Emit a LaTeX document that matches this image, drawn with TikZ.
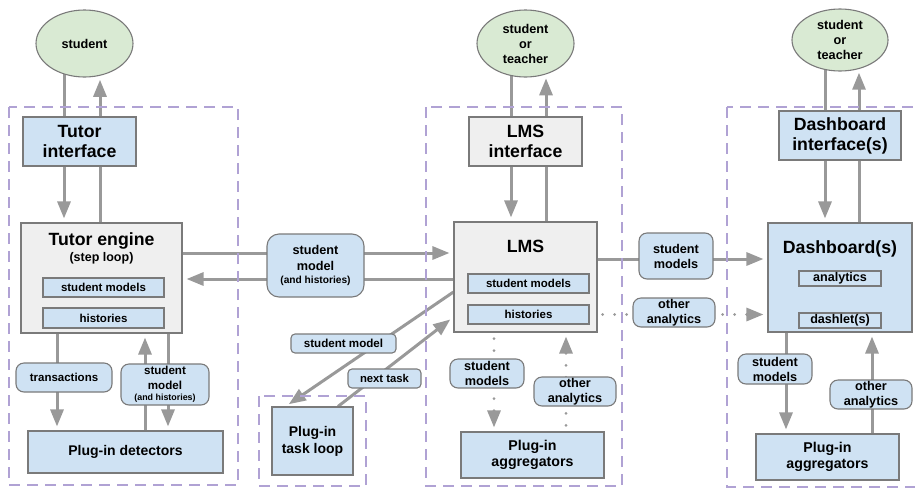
\documentclass[tikz,border=0pt]{standalone}
\usepackage{fontspec}
\setmainfont{Liberation Sans}
\usetikzlibrary{arrows.meta,shapes.geometric,calc}
\definecolor{lblue}{HTML}{CFE2F3}
\definecolor{lgray}{HTML}{EFEFEF}
\definecolor{lgreen}{HTML}{D9EAD3}
\definecolor{arrowgray}{HTML}{999999}
\definecolor{dashpurple}{HTML}{B0A2D4}
\definecolor{edgegray}{HTML}{7A7A7A}
\pgfdeclarelayer{bg}
\pgfsetlayers{bg,main}
\newcommand{\myfs}[2]{\fontsize{#1}{#2}\selectfont}

\begin{document}
\begin{tikzpicture}[x=1pt,y=-1pt,
 box/.style={draw=edgegray, line width=1.1pt, inner sep=0pt, align=center, font=\bfseries},
 bluebox/.style={box, fill=lblue},
 graybox/.style={box, fill=lgray},
 bigtitle/.style={font=\bfseries\myfs{17.7}{20}},
 titletext/.style={inner sep=0pt, font=\bfseries\myfs{17.7}{20}},
 person/.style={ellipse, draw=edgegray, line width=1.1pt, fill=lgreen, inner sep=0pt, align=center, font=\bfseries\myfs{12.7}{15}},
 tagbox/.style={bluebox, rounded corners=8pt, font=\bfseries\myfs{12.7}{15}},
 smalltag/.style={bluebox, rounded corners=4pt, font=\bfseries\myfs{11.5}{14}},
 innerbox/.style={bluebox, font=\bfseries\myfs{11.5}{14}},
 plugin/.style={bluebox, font=\bfseries\myfs{14.2}{16}},
 arr/.style={draw=arrowgray, line width=3pt, shorten >=4pt, -{Triangle[length=17pt,width=13pt]}},
 thinarr/.style={draw=arrowgray, line width=2pt, shorten >=1.5pt, -{Triangle[length=11pt,width=9pt]}},
 ln/.style={draw=arrowgray, line width=3pt},
 dotarr/.style={draw=arrowgray, line width=3pt, line cap=round, dash pattern=on 0pt off 12pt, shorten >=4pt, -{Triangle[length=17pt,width=13pt]}},
 grp/.style={draw=dashpurple, line width=2.5pt, dash pattern=on 11pt off 7pt},
]
\useasboundingbox (0,0) rectangle (915,488);

% ---------- people
\node[person, minimum width=97pt, minimum height=67pt] (stu1) at (84.5,43.5) {student};
\node[person, minimum width=97pt, minimum height=67pt] (stu2) at (525.5,43.5) {student\\or\\teacher};
\node[person, minimum width=96pt, minimum height=62pt] (stu3) at (840,40) {student\\or\\teacher};

% ---------- left column
\node[bluebox, bigtitle, minimum width=113pt, minimum height=49pt] (ti) at (79.5,141.5) {Tutor\\interface};
\node[graybox, minimum width=161pt, minimum height=110pt] (te) at (101.5,278) {};
\node[titletext] (tet) at (101.5,241) {Tutor engine};
\node[inner sep=0pt, font=\bfseries\myfs{12.5}{14}] (tes) at (101.5,258) {(step loop)};
\node[innerbox, minimum width=121pt, minimum height=19pt] (sm1) at (103.5,287.5) {student models};
\node[innerbox, minimum width=121pt, minimum height=20pt] (hi1) at (103.5,318) {histories};
\node[tagbox, minimum width=96pt, minimum height=29pt, font=\bfseries\myfs{11.5}{14}] (tr) at (64,377.5) {transactions};
\node[tagbox, minimum width=88pt, minimum height=41pt, font=\bfseries\myfs{11.6}{15}] (sml) at (165,384.5) {student\\model\\[-4pt]{\myfs{8.9}{10}(and histories)}};
\node[plugin, minimum width=195pt, minimum height=42pt, font=\bfseries\myfs{14}{16}] (det) at (125.5,452) {Plug-in detectors};

% ---------- between left and middle
\node[tagbox, rounded corners=12pt, minimum width=97pt, minimum height=63pt, font=\bfseries\myfs{12.7}{16}] (mlab) at (315.5,265.5) {student\\model\\[-3pt]{\myfs{10.2}{12}(and histories)}};
\node[plugin, minimum width=81pt, minimum height=68pt, font=\bfseries\myfs{14}{17}] (tl) at (312.5,441) {Plug-in\\task loop};
\node[smalltag, minimum width=105pt, minimum height=19pt, font=\bfseries\myfs{11.6}{14}] (dsm) at (343.5,343.5) {student model};
\node[smalltag, minimum width=73pt, minimum height=19pt, font=\bfseries\myfs{11.3}{14}] (dnt) at (384.5,378.5) {next task};

% ---------- middle column
\node[graybox, bigtitle, minimum width=113pt, minimum height=49pt] (lmsif) at (525.5,141.5) {LMS\\interface};
\node[graybox, minimum width=143pt, minimum height=110pt] (lms) at (525.5,277) {};
\node[titletext] (lmst) at (525.5,246) {LMS};
\node[innerbox, minimum width=121pt, minimum height=19pt] (sm2) at (528.5,283.5) {student models};
\node[innerbox, minimum width=121pt, minimum height=19pt] (hi2) at (528.5,314.5) {histories};
\node[tagbox, minimum width=74pt, minimum height=29pt] (msm) at (487,373.5) {student\\models};
\node[tagbox, minimum width=82pt, minimum height=29pt] (moa) at (575,391.5) {other\\analytics};
\node[plugin, minimum width=143pt, minimum height=46pt] (agg2) at (532.5,455) {Plug-in\\aggregators};

% ---------- between middle and right
\node[tagbox, minimum width=74pt, minimum height=46pt] (rsm) at (676,256) {student\\models};
\node[tagbox, minimum width=82pt, minimum height=29pt] (roa) at (674,312.5) {other\\analytics};

% ---------- right column
\node[bluebox, bigtitle, minimum width=122pt, minimum height=49pt] (dbif) at (840,135.5) {Dashboard\\interface(s)};
\node[bluebox, minimum width=144pt, minimum height=109pt] (db) at (840,277.5) {};
\node[titletext] (dbt) at (840,249) {Dashboard(s)};
\node[innerbox, minimum width=82pt, minimum height=15pt, font=\bfseries\myfs{12.6}{14}] (an) at (840,278.5) {analytics};
\node[innerbox, minimum width=82pt, minimum height=15pt, font=\bfseries\myfs{12.6}{14}] (dl) at (840,320.5) {dashlet(s)};
\node[tagbox, minimum width=74pt, minimum height=30pt] (bsm) at (775,369) {student\\models};
\node[tagbox, minimum width=82pt, minimum height=29pt] (boa) at (871,394.5) {other\\analytics};
\node[plugin, minimum width=143pt, minimum height=46pt] (agg3) at (827.5,457) {Plug-in\\aggregators};

% ---------- guide coordinates
\coordinate (vL1) at (64,0);
\coordinate (vL2) at (100,0);
\coordinate (vL3) at (57,0);
\coordinate (vL4) at (145,0);
\coordinate (vL5) at (168,0);
\coordinate (vM1) at (511,0);
\coordinate (vM2) at (546,0);
\coordinate (vM3) at (494,0);
\coordinate (vM4) at (566,0);
\coordinate (vR1) at (825,0);
\coordinate (vR2) at (859,0);
\coordinate (vR3) at (786,0);
\coordinate (vR4) at (872,0);
\coordinate (hH1) at (0,253);
\coordinate (hH2) at (0,279);
\coordinate (hH3) at (0,259);

\begin{pgfonlayer}{bg}
% left column
\draw[ln] (stu1 -| vL1) -- (ti -| vL1);
\draw[arr] (ti -| vL2) -- (stu1.-64 -| vL2);
\draw[arr] (ti -| vL1) -- (te.north -| vL1);
\draw[ln] (te -| vL2) -- (ti -| vL2);
\draw[arr] (te -| vL3) -- (det.north -| vL3);
\draw[arr] (det -| vL4) -- (te.south -| vL4);
\draw[arr] (te -| vL5) -- (det.north -| vL5);
% engine <-> LMS
\draw[arr] (te.east |- hH1) -- (lms.west |- hH1);
\draw[arr] (lms.west |- hH2) -- (te.east |- hH2);
% task loop
\draw[arr] ([yshift=-15pt]lms.west) -- ([xshift=-27pt]tl.north);
\draw[arr] ([xshift=25.5pt]tl.north) -- ([yshift=-40pt]lms.west);
% middle column
\draw[ln] (stu2 -| vM1) -- (lmsif -| vM1);
\draw[arr] (lmsif -| vM2) -- (stu2.-56 -| vM2);
\draw[arr] (lmsif -| vM1) -- (lms.north -| vM1);
\draw[ln] (lms -| vM2) -- (lmsif -| vM2);
\draw[dotarr] ($(lms.south -| vM3)+(0,6)$) -- (agg2.north -| vM3);
\draw[dotarr] ($(agg2.north -| vM4)+(0,-6)$) -- (lms.south -| vM4);
% LMS -> dashboard
\draw[arr] (lms.east |- hH3) -- (db.west |- hH3);
\draw[dotarr] ($(lms.east |- hi2)+(5,0)$) -- (db.west |- hi2);
% right column
\draw[ln] (stu3 -| vR1) -- (dbif -| vR1);
\draw[arr] (dbif -| vR2) -- (stu3.-55 -| vR2);
\draw[arr] (dbif -| vR1) -- (db.north -| vR1);
\draw[ln] (db -| vR2) -- (dbif -| vR2);
\draw[arr] (db -| vR3) -- (agg3.north -| vR3);
\draw[arr] (agg3 -| vR4) -- (db.south -| vR4);
\draw[thinarr] (an) -- (dl.north);
% dashed groups
\draw[grp] (9,107) rectangle (238,485);
\draw[grp] (426,107) rectangle (622,486);
\draw[grp] (727,107) rectangle (935,487);
\draw[grp] (259,396) rectangle (366,486);
\end{pgfonlayer}
\end{tikzpicture}
\end{document}
